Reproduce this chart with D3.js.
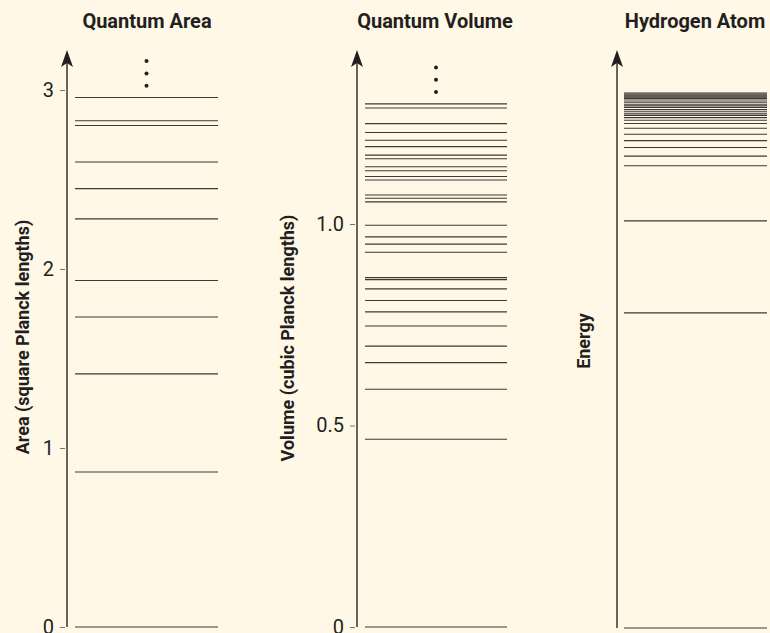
<!DOCTYPE html>
<html>
<head>
<meta charset="utf-8">
<script src="https://cdn.jsdelivr.net/npm/d3@7"></script>
<style>
  html, body { margin: 0; padding: 0; background: #fff8e6; }
  svg { display: block; }
  text { font-family: Roboto, "Noto Sans", "DejaVu Sans", sans-serif; fill: #231f20; }
</style>
</head>
<body>
<svg id="chart" width="770" height="633"></svg>
<script>
// ---- data ----
const panelTitles = ["Quantum Area", "Quantum Volume", "Hydrogen Atom"];
const axisLabels = ["Area (square Planck lengths)", "Volume (cubic Planck lengths)", "Energy"];

const areaLevels = [0, 0.866, 1.414, 1.732, 1.936, 2.280, 2.449, 2.598, 2.802, 2.828, 2.958];
const areaTicks = [0, 1, 2, 3];
const areaTickLabels = ["0", "1", "2", "3"];

const volumeLevels = [0, 0.466, 0.590, 0.656, 0.697, 0.747, 0.782, 0.810, 0.839, 0.862, 0.867,
  0.930, 0.950, 0.968, 0.997, 1.055, 1.064, 1.072, 1.109, 1.118, 1.132, 1.142, 1.162, 1.171,
  1.192, 1.208, 1.227, 1.249, 1.288, 1.298];
const volumeTicks = [0, 0.5, 1.0];
const volumeTickLabels = ["0", "0.5", "1.0"];

const hydrogenLevels = [0, 0.589, 0.761, 0.864, 0.882, 0.898, 0.911, 0.923, 0.934, 0.943, 0.949,
  0.954, 0.958, 0.961, 0.965, 0.969, 0.973, 0.976, 0.979, 0.983, 0.987, 0.990, 0.992, 0.994,
  0.996, 0.998, 1.0];

// ---- layout ----
const svg = d3.select("#chart");
const bg = "#fff8e6";
svg.append("rect").attr("width", 770).attr("height", 633).attr("fill", bg);

const panels = [
  { title: panelTitles[0], label: axisLabels[0], levels: areaLevels, domain: [0, 3], range: [627, 90],
    ticks: areaTicks, tickLabels: areaTickLabels, axisX: 67, x0: 75, x1: 218, titleX: 147,
    labelX: 23, labelY: 337, dots: true, axisBottom: 627 },
  { title: panelTitles[1], label: axisLabels[1], levels: volumeLevels, domain: [0, 1], range: [627, 224],
    ticks: volumeTicks, tickLabels: volumeTickLabels, axisX: 357, x0: 365, x1: 507, titleX: 435,
    labelX: 288, labelY: 338, dots: true, axisBottom: 627 },
  { title: panelTitles[2], label: axisLabels[2], levels: hydrogenLevels, domain: [0, 1], range: [628, 93],
    ticks: [], tickLabels: [], axisX: 617, x0: 624, x1: 767, titleX: 695,
    labelX: 584, labelY: 341, dots: false, axisBottom: 628 }
];

panels.forEach(p => {
  const y = d3.scaleLinear().domain(p.domain).range(p.range);
  const g = svg.append("g");

  // title
  g.append("text")
    .attr("x", p.titleX).attr("y", 28)
    .attr("text-anchor", "middle")
    .attr("font-size", 20).attr("font-weight", 700)
    .text(p.title);

  // axis label
  g.append("text")
    .attr("transform", `translate(${p.labelX},${p.labelY}) rotate(-90)`)
    .attr("text-anchor", "middle")
    .attr("dy", "0.35em")
    .attr("font-size", 18).attr("font-weight", 700)
    .text(p.label);

  // ticks via d3 axis
  if (p.ticks.length) {
    const axis = d3.axisLeft(y)
      .tickValues(p.ticks)
      .tickFormat((d, i) => p.tickLabels[i])
      .tickSize(5).tickPadding(6);
    const ag = g.append("g").attr("transform", `translate(${p.axisX - 2},0)`).call(axis);
    ag.select(".domain").remove();
    ag.selectAll(".tick line").attr("stroke", "#7a726a").attr("stroke-width", 1);
    ag.selectAll(".tick text")
      .attr("font-size", 20).attr("font-weight", 400)
      .attr("fill", "#231f20")
      .style("font-family", "Roboto, 'Noto Sans', sans-serif");
  }

  // axis line with arrow
  g.append("line")
    .attr("x1", p.axisX).attr("x2", p.axisX)
    .attr("y1", p.axisBottom).attr("y2", 60)
    .attr("stroke", "#6b635b").attr("stroke-width", 2);
  g.append("path")
    .attr("d", `M${p.axisX},50 L${p.axisX - 6},67 L${p.axisX},63 L${p.axisX + 6},67 Z`)
    .attr("fill", "#231f20");

  // levels
  g.selectAll("line.level")
    .data(p.levels)
    .join("line")
    .attr("class", "level")
    .attr("x1", p.x0).attr("x2", p.x1)
    .attr("y1", d => y(d)).attr("y2", d => y(d))
    .attr("stroke", "#3d3935").attr("stroke-width", 1.1);

  // ellipsis dots above the top level
  if (p.dots) {
    const top = y(d3.max(p.levels));
    const cx = (p.x0 + p.x1) / 2;
    g.selectAll("circle.dot")
      .data([1, 2, 3])
      .join("circle")
      .attr("class", "dot")
      .attr("cx", cx)
      .attr("cy", d => top - d * 12.3 + 0.5)
      .attr("r", 2)
      .attr("fill", "#231f20");
  }
});
</script>
</body>
</html>
